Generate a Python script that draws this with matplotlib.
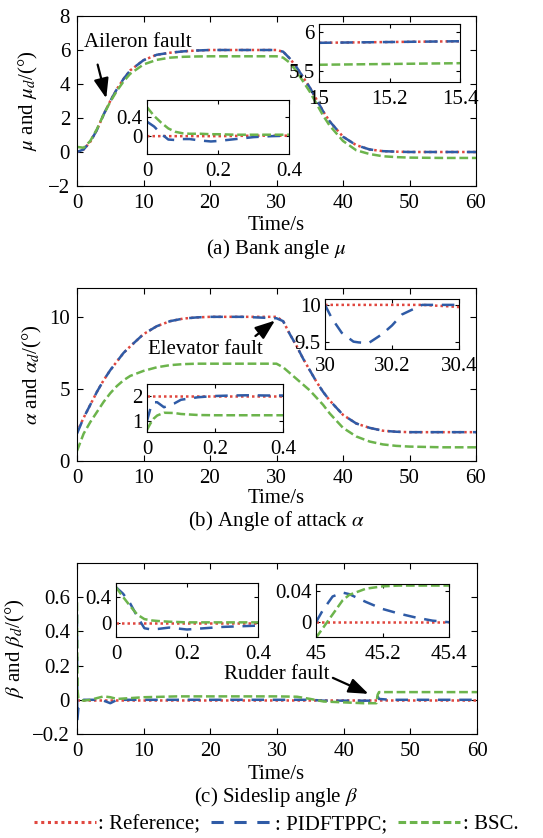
import matplotlib
matplotlib.use('Agg')
import matplotlib.pyplot as plt
from matplotlib.lines import Line2D

plt.rcParams['font.family'] = ['Liberation Serif', 'DejaVu Serif']
plt.rcParams['mathtext.fontset'] = 'stix'
plt.rcParams['font.size'] = 15
plt.rcParams['xtick.direction'] = 'in'
plt.rcParams['ytick.direction'] = 'in'
plt.rcParams['xtick.top'] = True
plt.rcParams['ytick.right'] = True
plt.rcParams['xtick.major.size'] = 4
plt.rcParams['ytick.major.size'] = 4
plt.rcParams['xtick.major.pad'] = 6
plt.rcParams['ytick.major.pad'] = 5

RED = '#e0473f'
BLUE = '#2f5ba6'
GREEN = '#6cb44c'

# ---- (a) bank angle ----
t_a = [0, 1, 2, 3, 4, 5, 6, 7, 8, 10, 12, 14, 16, 18, 20, 25, 30, 31, 32, 33, 34, 35, 36, 37, 38, 40, 42, 44, 46, 48, 50, 55, 60]
mu_ref = [0, 0.15, 0.6, 1.3, 2.2, 3.0, 3.7, 4.3, 4.8, 5.4, 5.72, 5.84, 5.92, 5.97, 6.0, 6.0, 6.0, 5.9, 5.5, 5.0, 4.4, 3.8, 3.1, 2.4, 1.8, 0.9, 0.4, 0.15, 0.05, 0.02, 0.0, 0.0, 0.0]
mu_pid = [0, 0.15, 0.6, 1.3, 2.2, 3.0, 3.7, 4.3, 4.8, 5.4, 5.72, 5.84, 5.92, 5.97, 6.0, 6.0, 6.0, 5.9, 5.5, 5.0, 4.4, 3.8, 3.1, 2.4, 1.8, 0.9, 0.4, 0.15, 0.05, 0.02, 0.0, 0.0, 0.0]
mu_bsc = [0.3, 0.25, 0.65, 1.35, 2.2, 2.95, 3.6, 4.15, 4.6, 5.15, 5.42, 5.55, 5.6, 5.62, 5.63, 5.63, 5.63, 5.55, 5.25, 4.75, 4.15, 3.55, 2.85, 2.15, 1.55, 0.65, 0.1, -0.12, -0.25, -0.3, -0.33, -0.35, -0.35]

t_a1 = [15, 15.1, 15.2, 15.3, 15.4]
mu_ref_a1 = [5.86, 5.865, 5.87, 5.875, 5.88]
mu_pid_a1 = [5.86, 5.865, 5.87, 5.875, 5.88]
mu_bsc_a1 = [5.58, 5.585, 5.59, 5.595, 5.6]

t_a2 = [0, 0.02, 0.04, 0.06, 0.08, 0.1, 0.12, 0.15, 0.18, 0.2, 0.25, 0.3, 0.35, 0.4]
mu_ref_a2 = [0, 0, 0, 0, 0, 0, 0, 0, 0, 0, 0.005, 0.01, 0.01, 0.01]
mu_pid_a2 = [0.3, 0.2, 0.05, -0.07, -0.08, -0.06, -0.06, -0.09, -0.11, -0.1, -0.06, -0.02, 0.0, 0.01]
mu_bsc_a2 = [0.6, 0.42, 0.28, 0.16, 0.09, 0.06, 0.05, 0.05, 0.04, 0.04, 0.03, 0.03, 0.03, 0.03]

# ---- (b) angle of attack ----
t_b = [0, 1, 2, 3, 4, 5, 6, 7, 8, 10, 12, 14, 16, 18, 20, 25, 30, 31, 32, 33, 34, 35, 36, 37, 38, 40, 42, 44, 46, 48, 50, 55, 60]
al_ref = [2.0, 3.0, 3.9, 4.8, 5.6, 6.3, 6.9, 7.5, 7.95, 8.8, 9.35, 9.7, 9.88, 9.96, 10.0, 10.0, 10.0, 9.7, 8.8, 8.0, 7.1, 6.3, 5.5, 4.8, 4.2, 3.2, 2.6, 2.3, 2.1, 2.03, 2.0, 2.0, 2.0]
al_pid = [1.9, 3.0, 3.9, 4.8, 5.6, 6.3, 6.9, 7.5, 7.95, 8.8, 9.35, 9.7, 9.88, 9.96, 10.0, 10.0, 9.9, 9.7, 8.8, 8.0, 7.1, 6.3, 5.5, 4.8, 4.2, 3.2, 2.6, 2.3, 2.1, 2.03, 2.0, 2.0, 2.0]
al_bsc = [0.7, 1.9, 2.7, 3.4, 4.1, 4.7, 5.2, 5.6, 5.9, 6.25, 6.5, 6.65, 6.72, 6.75, 6.75, 6.75, 6.75, 6.5, 6.1, 5.7, 5.3, 4.9, 4.4, 3.9, 3.3, 2.3, 1.7, 1.35, 1.15, 1.05, 1.0, 0.95, 0.95]

t_b1 = [30, 30.02, 30.05, 30.085, 30.1, 30.13, 30.17, 30.2, 30.23, 30.29, 30.33, 30.37, 30.4]
al_ref_b1 = [10, 10, 10, 10, 10, 10, 10, 10, 10, 10, 9.99, 9.98, 9.97]
al_pid_b1 = [10, 9.82, 9.62, 9.5, 9.49, 9.48, 9.6, 9.72, 9.87, 10.0, 10.0, 10.0, 10.0]

t_b2 = [0, 0.01, 0.02, 0.03, 0.05, 0.08, 0.1, 0.15, 0.2, 0.25, 0.3, 0.35, 0.4]
al_ref_b2 = [2, 2, 2, 2, 2, 2, 2, 2, 2, 2, 2, 2, 2]
al_pid_b2 = [1.0, 1.5, 1.75, 1.75, 1.55, 1.7, 1.85, 1.95, 2.0, 2.02, 2.03, 2.02, 2.02]
al_bsc_b2 = [0.65, 0.9, 1.1, 1.22, 1.33, 1.32, 1.28, 1.24, 1.23, 1.23, 1.23, 1.23, 1.23]

# ---- (c) sideslip angle ----
t_c = [0, 0.05, 0.1, 0.2, 0.5, 1, 2, 3, 4, 5, 6, 8, 10, 15, 20, 25, 30, 33, 35, 37, 40, 43, 44.9, 45.1, 45.3, 47, 50, 55, 60]
be_ref = [0] * len(t_c)
be_pid = [0.5, -0.12, -0.1, -0.05, -0.02, 0, 0, 0, -0.005, -0.02, 0, 0, 0, 0, 0, 0, 0, 0, 0, -0.005, -0.005, -0.005, -0.005, 0.02, 0.005, 0, 0, 0, 0]
be_bsc = [0.57, 0.2, 0.05, 0.01, 0.0, -0.005, 0.0, 0.01, 0.02, 0.015, 0.005, 0.01, 0.015, 0.02, 0.02, 0.02, 0.02, 0.018, 0.005, -0.01, -0.015, -0.02, -0.02, 0.03, 0.045, 0.045, 0.045, 0.045, 0.045]

t_c1 = [0, 0.02, 0.04, 0.06, 0.08, 0.1, 0.12, 0.15, 0.2, 0.25, 0.3, 0.35, 0.4]
be_ref_c1 = [0] * len(t_c1)
be_pid_c1 = [0.55, 0.45, 0.3, 0.1, -0.08, -0.1, -0.09, -0.07, -0.1, -0.08, -0.06, -0.05, -0.04]
be_bsc_c1 = [0.55, 0.4, 0.26, 0.13, 0.06, 0.04, 0.03, 0.02, 0.01, 0.01, 0.01, 0.01, 0.01]

t_c2 = [45, 45.02, 45.05, 45.08, 45.1, 45.15, 45.2, 45.25, 45.3, 45.35, 45.4]
be_ref_c2 = [0] * len(t_c2)
be_pid_c2 = [0, 0.015, 0.033, 0.038, 0.036, 0.026, 0.017, 0.011, 0.006, 0.002, 0.0]
be_bsc_c2 = [-0.02, -0.008, 0.01, 0.028, 0.035, 0.043, 0.046, 0.047, 0.047, 0.047, 0.047]


def draw(ax, t, ref, pid, bsc=None):
    ax.plot(t, ref, color=RED, lw=1.8, linestyle=(0, (1, 1.2)))
    ax.plot(t, pid, color=BLUE, lw=1.8, linestyle=(0, (5, 3.5)))
    if bsc is not None:
        ax.plot(t, bsc, color=GREEN, lw=1.8, linestyle=(0, (3.5, 1.5)))


def inset(rect, t, ref, pid, bsc, xlim, ylim, xt, xtl, yt, ytl):
    ax = fig.add_axes(rect)
    draw(ax, t, ref, pid, bsc)
    ax.set_xlim(*xlim)
    ax.set_ylim(*ylim)
    ax.set_xticks(xt)
    ax.set_xticklabels(xtl)
    ax.set_yticks(yt)
    ax.set_yticklabels(ytl)
    ax.tick_params(labelsize=15, length=3)
    ax.tick_params(axis='y', pad=3)
    return ax


fig = plt.figure(figsize=(5.43, 8.38), dpi=100)
W, H = 543.0, 838.0


def rect(x0, y0, x1, y1):
    return [x0 / W, 1 - y1 / H, (x1 - x0) / W, (y1 - y0) / H]


def fy(y):
    return 1 - y / H


arrow = dict(arrowstyle='-|>,head_width=0.3,head_length=0.8', lw=1.6, color='k')

# (a)
ax = fig.add_axes(rect(77, 16, 476, 186))
draw(ax, t_a, mu_ref, mu_pid, mu_bsc)
ax.set_xlim(0, 60)
ax.set_ylim(-2, 8)
ax.set_xticks(range(0, 61, 10))
ax.set_yticks([-2, 0, 2, 4, 6, 8])
ax.set_yticklabels(['\u22122', '0', '2', '4', '6', '8'])
ax.set_ylabel(r'$\mu$ and $\mu_d$/(°)', labelpad=6)
ax.text(1.0, 6.47, 'Aileron fault', ha='left', va='center')
ax.annotate('', xy=(4.5, 3.0), xytext=(3.0, 5.3), arrowprops=arrow)
fig.text(0.509, fy(226), 'Time/s', ha='center', va='center')
fig.text(0.509, fy(249), r'(a) Bank angle $\mu$', ha='center', va='center')

inset(rect(319, 24, 460, 82), t_a1, mu_ref_a1, mu_pid_a1, mu_bsc_a1,
      (15, 15.4), (5.36, 6.1), [15, 15.2, 15.4], ['15', '15.2', '15.4'], [5.5, 6], ['5.5', '6'])
inset(rect(147, 100, 289, 154), t_a2, mu_ref_a2, mu_pid_a2, mu_bsc_a2,
      (0, 0.4), (-0.37, 0.75), [0, 0.2, 0.4], ['0', '0.2', '0.4'], [0, 0.4], ['0', '0.4'])

# (b)
ax = fig.add_axes(rect(77, 288, 476, 461))
draw(ax, t_b, al_ref, al_pid, al_bsc)
ax.set_xlim(0, 60)
ax.set_ylim(0, 12)
ax.set_xticks(range(0, 61, 10))
ax.set_yticks([0, 5, 10])
ax.set_ylabel(r'$\alpha$ and $\alpha_d$/(°)', labelpad=4)
ax.text(10.7, 7.72, 'Elevator fault', ha='left', va='center')
ax.annotate('', xy=(30.1, 9.86), xytext=(26.5, 8.55), arrowprops=arrow)
fig.text(0.509, fy(498), 'Time/s', ha='center', va='center')
fig.text(0.509, fy(521), r'(b) Angle of attack $\alpha$', ha='center', va='center')

inset(rect(325, 299, 459, 349), t_b1, al_ref_b1, al_pid_b1, None,
      (30, 30.4), (9.4, 10.08), [30, 30.2, 30.4], ['30', '30.2', '30.4'], [9.5, 10], ['9.5', '10'])
inset(rect(147, 384, 283, 432), t_b2, al_ref_b2, al_pid_b2, al_bsc_b2,
      (0, 0.4), (0.56, 2.48), [0, 0.2, 0.4], ['0', '0.2', '0.4'], [1, 2], ['1', '2'])

# (c)
ax = fig.add_axes(rect(77, 563, 477, 734))
draw(ax, t_c, be_ref, be_pid, be_bsc)
ax.set_xlim(0, 60)
ax.set_ylim(-0.2, 0.8)
ax.set_xticks(range(0, 61, 10))
ax.set_yticks([-0.2, 0, 0.2, 0.4, 0.6])
ax.set_yticklabels(['\u22120.2', '0', '0.2', '0.4', '0.6'])
ax.set_ylabel(r'$\beta$ and $\beta_d$/(°)', labelpad=4)
ax.text(22.1, 0.15, 'Rudder fault', ha='left', va='center')
ax.annotate('', xy=(44.1, 0.028), xytext=(38.0, 0.135), arrowprops=arrow)
fig.text(0.509, fy(774), 'Time/s', ha='center', va='center')
fig.text(0.509, fy(797), r'(c) Sideslip angle $\beta$', ha='center', va='center')

inset(rect(116, 583, 258, 637), t_c1, be_ref_c1, be_pid_c1, be_bsc_c1,
      (0, 0.4), (-0.215, 0.615), [0, 0.2, 0.4], ['0', '0.2', '0.4'], [0, 0.4], ['0', '0.4'])
inset(rect(316, 584, 449, 637), t_c2, be_ref_c2, be_pid_c2, be_bsc_c2,
      (45, 45.4), (-0.019, 0.049), [45, 45.2, 45.4], ['45', '45.2', '45.4'], [0, 0.04], ['0', '0.04'])

handles = [Line2D([], [], color=RED, lw=2.2, linestyle=(0, (1, 1.2))),
           Line2D([], [], color=BLUE, lw=2.2, linestyle=(0, (4, 3.5))),
           Line2D([], [], color=GREEN, lw=2.2, linestyle=(0, (2.5, 1.2)))]
fig.legend(handles, [': Reference;', ': PIDFTPPC;', ': BSC.'], loc='center',
           bbox_to_anchor=(0.508, fy(824)), ncol=3, frameon=False,
           handlelength=3.0, handletextpad=0.1, columnspacing=0.5, borderpad=0)

fig.savefig('out.png', dpi=100)
